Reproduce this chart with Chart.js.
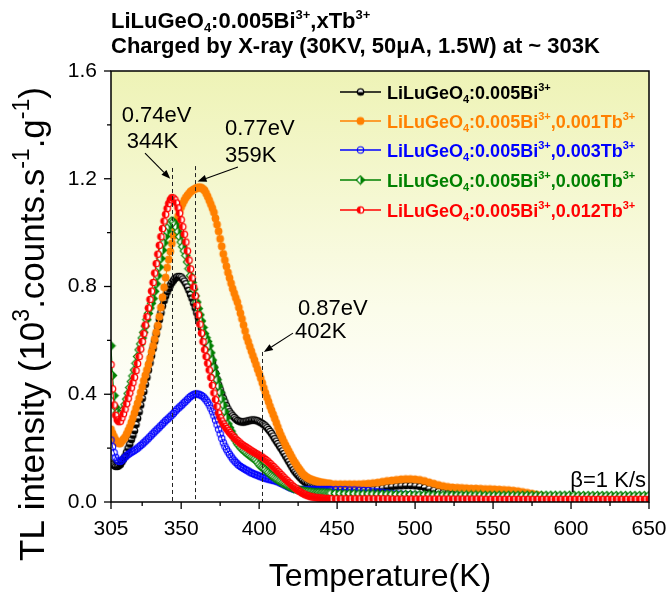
<!DOCTYPE html>
<html><head><meta charset="utf-8">
<script src="https://cdn.jsdelivr.net/npm/chart.js@4.4.0/dist/chart.umd.min.js"></script>
<style>html,body{margin:0;padding:0;background:#fff;}#wrap{width:668px;height:592px;}</style>
</head><body><div id="wrap"><canvas id="c" width="668" height="592"></canvas></div>
<script>
// Temperature (K): 1 K steps up to 446 K, 3 K steps afterwards
const temps = [
 305,306,307,308,309,310,311,312,313,314,
 315,316,317,318,319,320,321,322,323,324,
 325,326,327,328,329,330,331,332,333,334,
 335,336,337,338,339,340,341,342,343,344,
 345,346,347,348,349,350,351,352,353,354,
 355,356,357,358,359,360,361,362,363,364,
 365,366,367,368,369,370,371,372,373,374,
 375,376,377,378,379,380,381,382,383,384,
 385,386,387,388,389,390,391,392,393,394,
 395,396,397,398,399,400,401,402,403,404,
 405,406,407,408,409,410,411,412,413,414,
 415,416,417,418,419,420,421,422,423,424,
 425,426,427,428,429,430,431,432,433,434,
 435,436,437,438,439,440,441,442,443,444,
 445,446,
 449,452,
 455,458,461,464,467,470,473,476,479,482,
 485,488,491,494,497,500,503,506,509,512,
 515,518,521,524,527,530,533,536,539,542,
 545,548,551,554,557,560,563,566,569,572,
 575,578,581,584,587,590,593,596,599,602,
 605,608,611,614,617,620,623,626,629,632,
 635,638,641,644,647,650];

// LiLuGeO4:0.005Bi3+
const bi005 = [
 .145,.140,.135,.132,.132,.135,.140,.150,.160,.170,
 .185,.200,.215,.232,.248,.265,.288,.311,.335,.360,
 .385,.410,.437,.463,.490,.517,.543,.570,.597,.623,
 .650,.677,.703,.728,.748,.765,.780,.793,.805,.815,
 .823,.830,.835,.837,.837,.835,.828,.820,.810,.798,
 .785,.770,.755,.738,.720,.702,.684,.665,.645,.625,
 .605,.588,.572,.555,.537,.519,.500,.478,.456,.435,
 .417,.401,.385,.371,.357,.345,.335,.327,.320,.314,
 .308,.303,.300,.298,.297,.297,.298,.300,.301,.303,
 .304,.304,.304,.303,.301,.298,.295,.291,.287,.282,
 .276,.269,.262,.254,.245,.235,.226,.217,.208,.199,
 .190,.180,.170,.160,.150,.140,.130,.120,.112,.105,
 .098,.092,.086,.080,.075,.071,.068,.065,.062,.060,
 .058,.056,.054,.053,.051,.050,.049,.048,.047,.046,
 .046,.045,
 .044,.044,
 .043,.043,.043,.043,.044,.045,.047,.049,.052,.055,
 .057,.059,.060,.061,.061,.060,.058,.054,.049,.044,
 .039,.035,.031,.028,.026,.024,.022,.021,.020,.019,
 .018,.017,.016,.016,.015,.015,.014,.014,.013,.013,
 .012,.012,.012,.011,.011,.011,.010,.010,.010,.010,
 .010,.010,.010,.010,.010,.010,.010,.010,.010,.010,
 .010,.010,.010,.010,.010,.010];

// LiLuGeO4:0.005Bi3+,0.001Tb3+
const tb001 = [
 .270,.255,.242,.230,.222,.218,.218,.226,.233,.240,
 .252,.265,.278,.295,.312,.330,.348,.366,.385,.407,
 .428,.450,.470,.490,.510,.533,.557,.580,.605,.630,
 .655,.688,.722,.760,.797,.833,.870,.900,.930,.960,
 .988,1.015,1.040,1.060,1.078,1.095,1.108,1.120,1.130,1.138,
 1.145,1.152,1.156,1.160,1.163,1.166,1.167,1.168,1.166,1.162,
 1.157,1.146,1.134,1.120,1.106,1.091,1.075,1.053,1.030,1.005,
 .977,.949,.921,.898,.875,.852,.832,.812,.792,.775,
 .758,.742,.722,.701,.680,.657,.635,.612,.595,.577,
 .560,.543,.527,.510,.493,.477,.460,.442,.423,.405,
 .388,.372,.355,.340,.325,.310,.294,.278,.262,.248,
 .235,.222,.210,.199,.188,.177,.166,.155,.146,.137,
 .128,.120,.112,.104,.099,.094,.090,.087,.084,.082,
 .080,.078,.076,.075,.073,.072,.071,.070,.069,.068,
 .068,.067,
 .066,.066,
 .066,.066,.066,.066,.067,.068,.070,.072,.075,.078,
 .080,.082,.084,.085,.085,.084,.082,.078,.073,.068,
 .063,.059,.056,.054,.053,.052,.051,.050,.050,.049,
 .048,.048,.047,.046,.045,.044,.042,.040,.037,.034,
 .031,.027,.023,.019,.016,.013,.011,.010,.009,.009,
 .009,.009,.009,.009,.009,.009,.009,.009,.009,.009,
 .009,.009,.009,.009,.009,.009];

// LiLuGeO4:0.005Bi3+,0.003Tb3+
const tb003 = [
 .230,.205,.183,.166,.155,.151,.151,.155,.161,.167,
 .172,.177,.181,.185,.188,.192,.196,.200,.205,.210,
 .215,.220,.226,.231,.237,.243,.249,.255,.261,.267,
 .272,.278,.284,.290,.296,.302,.307,.312,.318,.323,
 .329,.336,.342,.348,.353,.358,.364,.370,.375,.381,
 .387,.392,.396,.399,.401,.401,.400,.398,.395,.391,
 .385,.378,.370,.360,.348,.335,.320,.304,.287,.270,
 .253,.236,.220,.207,.196,.186,.177,.168,.160,.153,
 .147,.141,.136,.132,.128,.125,.121,.118,.115,.111,
 .108,.106,.103,.101,.099,.096,.094,.092,.090,.088,
 .086,.085,.083,.082,.080,.079,.077,.075,.072,.069,
 .067,.064,.061,.058,.055,.053,.050,.048,.047,.047,
 .046,.046,.046,.046,.046,.046,.046,.046,.046,.046,
 .046,.046,.046,.046,.046,.046,.046,.046,.046,.046,
 .046,.046,
 .046,.046,
 .046,.045,.045,.044,.043,.042,.040,.038,.036,.034,
 .032,.030,.029,.028,.027,.026,.025,.025,.024,.024,
 .023,.023,.022,.022,.022,.021,.021,.021,.020,.020,
 .020,.020,.020,.020,.020,.020,.020,.020,.020,.020,
 .020,.020,.020,.020,.020,.020,.020,.020,.020,.020,
 .019,.019,.019,.019,.019,.019,.019,.019,.019,.019,
 .019,.019,.019,.019,.019,.019];

// LiLuGeO4:0.005Bi3+,0.006Tb3+
const tb006 = [
 .580,.470,.395,.352,.332,.323,.322,.330,.344,.362,
 .382,.403,.425,.447,.468,.490,.515,.540,.565,.587,
 .609,.630,.653,.677,.700,.720,.738,.755,.782,.810,
 .840,.872,.904,.935,.962,.986,1.005,1.022,1.036,1.043,
 1.040,1.032,1.020,1.004,.985,.965,.948,.932,.915,.891,
 .866,.840,.815,.790,.765,.742,.718,.695,.672,.648,
 .625,.610,.596,.580,.554,.527,.500,.477,.454,.430,
 .407,.383,.360,.336,.313,.290,.276,.263,.250,.239,
 .228,.218,.211,.204,.197,.192,.187,.182,.177,.173,
 .168,.164,.160,.155,.148,.140,.133,.129,.125,.120,
 .114,.109,.103,.099,.095,.090,.086,.082,.078,.075,
 .071,.068,.065,.062,.059,.056,.054,.051,.049,.047,
 .045,.044,.042,.041,.040,.039,.038,.037,.037,.036,
 .036,.035,.035,.035,.034,.034,.034,.034,.033,.033,
 .033,.033,
 .032,.032,
 .031,.031,.031,.030,.030,.030,.030,.029,.029,.029,
 .029,.028,.028,.028,.028,.027,.027,.027,.027,.026,
 .026,.026,.026,.026,.026,.026,.026,.026,.026,.026,
 .025,.025,.025,.025,.025,.025,.025,.025,.025,.025,
 .025,.025,.025,.025,.025,.025,.025,.025,.025,.025,
 .024,.024,.024,.024,.024,.024,.024,.024,.024,.024,
 .024,.024,.024,.024,.024,.024];

// LiLuGeO4:0.005Bi3+,0.012Tb3+
const tb012 = [
 .510,.420,.360,.322,.305,.298,.300,.313,.328,.345,
 .365,.385,.405,.424,.443,.463,.488,.514,.540,.568,
 .596,.625,.657,.688,.720,.752,.783,.815,.850,.885,
 .920,.953,.985,1.015,1.043,1.068,1.090,1.108,1.122,1.130,
 1.128,1.122,1.110,1.092,1.072,1.048,1.022,.994,.965,.932,
 .898,.865,.832,.798,.765,.730,.695,.660,.627,.595,
 .565,.540,.515,.490,.462,.433,.405,.380,.355,.330,
 .314,.301,.290,.281,.273,.265,.258,.251,.245,.239,
 .233,.228,.223,.218,.213,.209,.206,.202,.198,.194,
 .190,.187,.183,.180,.177,.173,.170,.166,.162,.158,
 .153,.148,.143,.137,.132,.126,.120,.114,.108,.102,
 .096,.090,.084,.079,.073,.068,.062,.057,.052,.048,
 .043,.039,.035,.032,.029,.026,.024,.022,.020,.019,
 .018,.017,.016,.015,.015,.014,.014,.013,.013,.013,
 .012,.012,
 .012,.012,
 .012,.012,.012,.012,.012,.012,.012,.012,.012,.012,
 .011,.011,.011,.011,.011,.011,.011,.011,.011,.011,
 .011,.011,.011,.011,.011,.011,.011,.011,.011,.011,
 .010,.010,.010,.010,.010,.010,.010,.010,.010,.010,
 .010,.010,.010,.010,.010,.010,.010,.010,.010,.010,
 .010,.010,.010,.010,.010,.010,.010,.010,.010,.010,
 .010,.010,.010,.010,.010,.010];

const xMajorTicks = [305,350,400,450,500,550,600,650];
const xMinorTicks = [325,375,425,475,525,575,625];
const yMajorTicks = [0,0.4,0.8,1.2,1.6];
const yMinorTicks = [0.2,0.6,1.0,1.4];
const peakTemps = [344,359,402];

const FONT = "'Liberation Sans', Arial, Helvetica, sans-serif";

function makeMarker(kind, color){
  const c = document.createElement('canvas'); c.width = 11; c.height = 11;
  const g = c.getContext('2d'); const cx = 5.5, cy = 5.5;
  g.lineWidth = 1.3; g.strokeStyle = color; g.fillStyle = color;
  if (kind === 'filled') { g.beginPath(); g.arc(cx,cy,3.9,0,2*Math.PI); g.fill(); }
  else if (kind === 'open') { g.lineWidth = 1.1; g.beginPath(); g.arc(cx,cy,3.2,0,2*Math.PI); g.stroke(); }
  else if (kind === 'halfBottom' || kind === 'halfLeft') {
    const r = 3.2;
    g.beginPath(); g.arc(cx,cy,r,0,2*Math.PI); g.fillStyle = '#fff'; g.fill();
    g.beginPath();
    if (kind === 'halfBottom') g.arc(cx,cy,r,0,Math.PI); else g.arc(cx,cy,r,Math.PI/2,3*Math.PI/2);
    g.closePath(); g.fillStyle = color; g.fill();
    g.beginPath(); g.arc(cx,cy,r,0,2*Math.PI); g.stroke();
  } else if (kind === 'diamond') {
    const d = 4.2;
    g.beginPath(); g.moveTo(cx,cy-d); g.lineTo(cx+d,cy); g.lineTo(cx,cy+d); g.lineTo(cx-d,cy); g.closePath();
    g.fillStyle = '#fff'; g.fill();
    g.beginPath(); g.moveTo(cx,cy-d); g.lineTo(cx+d,cy); g.lineTo(cx,cy+d); g.closePath(); g.fillStyle = color; g.fill();
    g.beginPath(); g.moveTo(cx,cy-d); g.lineTo(cx+d,cy); g.lineTo(cx,cy+d); g.lineTo(cx-d,cy); g.closePath(); g.lineWidth = 1.1; g.stroke();
  }
  return c;
}

const series = [
  {values: bi005, color:'#000000', text:'#000000', marker: makeMarker('halfBottom','#000000'), conc:null},
  {values: tb001, color:'#FF8000', text:'#FF8000', marker: makeMarker('filled','#FF8000'), conc:'0.001'},
  {values: tb003, color:'#0000FF', text:'#0000FF', marker: makeMarker('open','#0000FF'), conc:'0.003'},
  {values: tb006, color:'#008000', text:'#008000', marker: makeMarker('diamond','#008000'), conc:'0.006'},
  {values: tb012, color:'#FF0000', text:'#FF0000', marker: makeMarker('halfLeft','#FF0000'), conc:'0.012'}
];

function legendParts(conc){
  const p = [['LiLuGeO',''],['4','sub'],[':0.005Bi',''],['3+','sup']];
  if (conc) p.push([','+conc+'Tb',''],['3+','sup']);
  return p;
}

function richWidth(ctx, parts, size, weight, ratio){
  let w = 0;
  for (const [t,m] of parts){ ctx.font = weight+' '+(m? Math.round(size*ratio):size)+'px '+FONT; w += ctx.measureText(t).width; }
  return w;
}
function drawRich(ctx, parts, x, y, size, weight, color, align, ratio){
  ratio = ratio || 0.6;
  const w = richWidth(ctx, parts, size, weight, ratio);
  let cx = align === 'center' ? x - w/2 : (align === 'right' ? x - w : x);
  ctx.fillStyle = color; ctx.textAlign = 'left'; ctx.textBaseline = 'alphabetic';
  for (const [t,m] of parts){
    const s = m ? Math.round(size*ratio) : size;
    ctx.font = weight+' '+s+'px '+FONT;
    const dy = m === 'sup' ? -size*0.42 : (m === 'sub' ? size*0.2 : 0);
    ctx.fillText(t, cx, y+dy);
    cx += ctx.measureText(t).width;
  }
}
function arrow(ctx, x1, y1, x2, y2){
  ctx.strokeStyle = '#000'; ctx.fillStyle = '#000'; ctx.lineWidth = 1.1; ctx.setLineDash([]);
  const a = Math.atan2(y2-y1, x2-x1), L = 9, W = 3.5;
  const bx = x2 - L*Math.cos(a), by = y2 - L*Math.sin(a);
  ctx.beginPath(); ctx.moveTo(x1,y1); ctx.lineTo(bx,by); ctx.stroke();
  ctx.beginPath(); ctx.moveTo(x2,y2);
  ctx.lineTo(bx + W*Math.sin(a), by - W*Math.cos(a));
  ctx.lineTo(bx - W*Math.sin(a), by + W*Math.cos(a)); ctx.closePath(); ctx.fill();
}

const decor = {
  id: 'decor',
  beforeDatasetsDraw(chart){
    const {ctx, chartArea: a} = chart;
    const g = ctx.createLinearGradient(0, a.top, 0, a.bottom);
    g.addColorStop(0, '#EEF3B6'); g.addColorStop(0.55, '#FBFCEA'); g.addColorStop(0.85, '#FFFFFF'); g.addColorStop(1, '#FFFFFF');
    ctx.save(); ctx.fillStyle = g; ctx.fillRect(a.left, a.top, a.right-a.left, a.bottom-a.top); ctx.restore();
  },
  afterDatasetsDraw(chart){
    const {ctx, chartArea: a, scales: {x, y}} = chart;
    ctx.save();
    ctx.strokeStyle = '#222'; ctx.lineWidth = 1; ctx.setLineDash([4,3]);
    const tops = [1.24, 1.247, 0.557];
    peakTemps.forEach((t,i) => {
      const px = Math.round(x.getPixelForValue(t)) + 0.5;
      ctx.beginPath(); ctx.moveTo(px, y.getPixelForValue(tops[i])); ctx.lineTo(px, a.bottom); ctx.stroke();
    });
    ctx.setLineDash([]);
    const P = (t,v) => [x.getPixelForValue(t), y.getPixelForValue(v)];
    let p1 = P(326.8,1.295), p2 = P(343,1.20); arrow(ctx, p1[0],p1[1],p2[0],p2[1]);
    p1 = P(386.4,1.244); p2 = P(360.5,1.190); arrow(ctx, p1[0],p1[1],p2[0],p2[1]);
    p1 = P(421.7,0.627); p2 = P(403,0.557); arrow(ctx, p1[0],p1[1],p2[0],p2[1]);
    ctx.fillStyle = '#000'; ctx.font = '22px '+FONT; ctx.textAlign = 'left'; ctx.textBaseline = 'alphabetic';
    let q = P(311.9,1.41); ctx.fillText('0.74eV', q[0], q[1]);
    q = P(315.1,1.314); ctx.fillText('344K', q[0], q[1]);
    q = P(378.1,1.362); ctx.fillText('0.77eV', q[0], q[1]);
    q = P(378.1,1.263); ctx.fillText('359K', q[0], q[1]);
    q = P(424.9,0.694); ctx.fillText('0.87eV', q[0], q[1]);
    q = P(423,0.609); ctx.fillText('402K', q[0], q[1]);
    ctx.textAlign = 'right'; ctx.fillText('\u03B2=1 K/s', a.right - 3, a.bottom - 15);
    ctx.strokeStyle = '#000'; ctx.lineWidth = 1.5;
    ctx.strokeRect(a.left, a.top, a.right-a.left, a.bottom-a.top);
    ctx.lineWidth = 1.3;
    const tx = (v, len) => { const px = x.getPixelForValue(v); ctx.beginPath(); ctx.moveTo(px, a.bottom); ctx.lineTo(px, a.bottom+len); ctx.stroke(); };
    const ty = (v, len) => { const py = y.getPixelForValue(v); ctx.beginPath(); ctx.moveTo(a.left, py); ctx.lineTo(a.left-len, py); ctx.stroke(); };
    xMajorTicks.forEach(v => tx(v, 7)); xMinorTicks.forEach(v => tx(v, 4));
    yMajorTicks.forEach(v => ty(v, 7)); yMinorTicks.forEach(v => ty(v, 4));
    const rows = [92, 121, 150, 180, 210];
    series.forEach((s,i) => {
      const ry = rows[i];
      ctx.strokeStyle = s.color; ctx.lineWidth = 1.3;
      ctx.beginPath(); ctx.moveTo(340, ry); ctx.lineTo(381, ry); ctx.stroke();
      ctx.drawImage(s.marker, 360.5 - s.marker.width/2, ry - s.marker.height/2);
      drawRich(ctx, legendParts(s.conc), 387, ry + 7, 18, 'bold', s.text, 'left', 0.62);
    });
    drawRich(ctx, [['LiLuGeO',''],['4','sub'],[':0.005Bi',''],['3+','sup'],[',xTb',''],['3+','sup']], 111, 28, 22, 'bold', '#000', 'left', 0.6);
    drawRich(ctx, [['Charged by X-ray (30KV, 50\u03BCA, 1.5W) at ~ 303K','']], 111, 53, 22, 'bold', '#000', 'left');
    drawRich(ctx, [['Temperature(K)','']], (a.left+a.right)/2, 586, 32, 'normal', '#000', 'center');
    ctx.translate(44, 324); ctx.rotate(-Math.PI/2);
    drawRich(ctx, [['TL intensity (10',''],['3','sup'],['.counts.s',''],['-1','sup'],['.g',''],['-1','sup'],[')','']], 0, 0, 35, 'normal', '#000', 'center', 0.65);
    ctx.restore();
  }
};

Chart.defaults.font.family = FONT;
Chart.defaults.color = '#000';

new Chart(document.getElementById('c'), {
  type: 'scatter',
  data: {
    datasets: series.map((s,i) => ({
      data: temps.map((t,j) => ({x: t, y: s.values[j]})),
      showLine: true, borderColor: s.color, borderWidth: 1,
      pointStyle: s.marker, pointRadius: 4, pointHoverRadius: 4,
      order: 5 - i
    }))
  },
  options: {
    responsive: false, animation: false, devicePixelRatio: 1,
    layout: {padding: {top: 71, right: 19, left: 0, bottom: 0}},
    plugins: {legend: {display: false}, tooltip: {enabled: false}, title: {display: false}},
    scales: {
      x: {
        type: 'linear', min: 305, max: 650,
        grid: {display: false, drawTicks: false}, border: {display: false},
        afterBuildTicks: sc => { sc.ticks = xMajorTicks.map(v => ({value: v})); },
        ticks: {font: {size: 21}, color: '#000', padding: 15, maxRotation: 0, autoSkip: false, callback: v => String(v)},
        afterFit: sc => { sc.height = 90; sc.paddingLeft = 0; sc.paddingRight = 0; }
      },
      y: {
        min: 0, max: 1.6,
        grid: {display: false, drawTicks: false}, border: {display: false},
        afterBuildTicks: sc => { sc.ticks = yMajorTicks.map(v => ({value: v})); },
        ticks: {font: {size: 21}, color: '#000', padding: 14, callback: v => Number(v).toFixed(1)},
        afterFit: sc => { sc.width = 111; sc.paddingTop = 0; sc.paddingBottom = 0; }
      }
    }
  },
  plugins: [decor]
});
</script></body></html>
